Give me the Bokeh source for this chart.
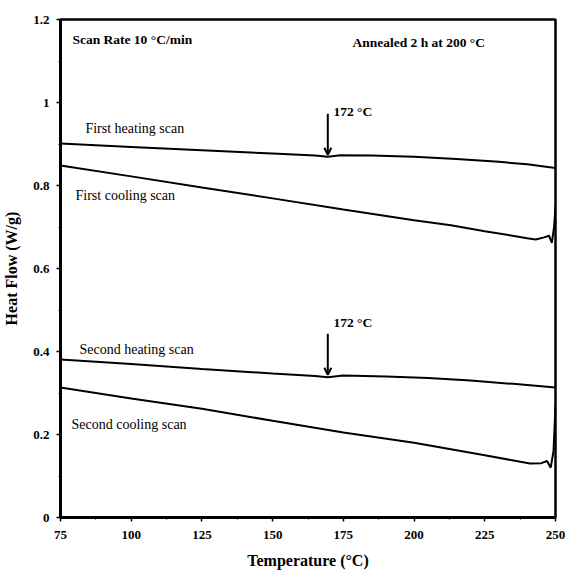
from bokeh.plotting import figure
from bokeh.models import FixedTicker, Arrow, OpenHead, ColumnDataSource, Range1d
from bokeh.core.properties import value
from bokeh.embed import file_html
from bokeh.resources import INLINE

# ---- data ----
first_heat_T = [75, 100, 125, 150, 165, 169.5, 174, 185, 200, 215, 230, 240, 250]
first_heat_Q = [0.901, 0.893, 0.885, 0.877, 0.872, 0.869, 0.873, 0.872, 0.869, 0.864, 0.857, 0.851, 0.842]

first_cool_T = [75, 100, 125, 150, 175, 200, 213, 225, 240, 243, 246, 247.7, 248.7, 249.5, 250]
first_cool_Q = [0.848, 0.822, 0.795, 0.769, 0.742, 0.716, 0.704, 0.69, 0.673, 0.670, 0.675, 0.679, 0.662, 0.70, 0.75]

second_heat_T = [75, 100, 125, 150, 165, 169.5, 175, 190, 205, 220, 235, 250]
second_heat_Q = [0.381, 0.370, 0.358, 0.347, 0.341, 0.338, 0.342, 0.340, 0.336, 0.330, 0.322, 0.313]

second_cool_T = [75, 100, 125, 150, 175, 200, 225, 241, 245, 247, 248.3, 249.3, 250]
second_cool_Q = [0.313, 0.287, 0.262, 0.233, 0.205, 0.180, 0.150, 0.130, 0.131, 0.136, 0.120, 0.16, 0.27]

x_ticks = [75, 100, 125, 150, 175, 200, 225, 250]
y_ticks = [0, 0.2, 0.4, 0.6, 0.8, 1.0, 1.2]
x_minor = [87.5, 112.5, 137.5, 162.5, 187.5, 212.5, 237.5]
y_minor = [0.1, 0.3, 0.5, 0.7, 0.9, 1.1]

bold_labels = ["Scan Rate 10 °C/min", "Annealed 2 h at 200 °C"]
bold_x = [79.2, 178.2]
bold_y = [1.152, 1.145]

scan_labels = ["First heating scan", "First cooling scan", "Second heating scan", "Second cooling scan"]
scan_x = [83.8, 80.3, 81.7, 78.9]
scan_y = [0.937, 0.776, 0.405, 0.224]

peak_labels = ["172 °C", "172 °C"]
peak_x = [171.5, 171.5]
peak_y = [0.978, 0.469]
arrow_x = [169.5, 169.5]
arrow_top = [0.973, 0.443]
arrow_tip = [0.874, 0.344]

FONT = "Liberation Serif"

p = figure(width=566, height=576, output_backend="svg", toolbar_location=None,
           x_range=Range1d(75, 250), y_range=Range1d(0, 1.2),
           min_border_left=58, min_border_right=11, min_border_top=19, min_border_bottom=59)
p.background_fill_color = "white"
p.border_fill_color = "white"
p.grid.visible = False
p.outline_line_color = "black"
p.outline_line_width = 2.5

p.xaxis.ticker = FixedTicker(ticks=x_ticks, minor_ticks=x_minor)
p.yaxis.ticker = FixedTicker(ticks=y_ticks, minor_ticks=y_minor)
for ax in (p.xaxis, p.yaxis):
    ax.axis_line_width = 3
    ax.axis_line_color = "black"
    ax.major_tick_out = 4
    ax.major_tick_in = 0
    ax.minor_tick_out = 2
    ax.minor_tick_in = 0
    ax.major_tick_line_width = 1.5
    ax.major_label_text_font = FONT
    ax.major_label_text_font_style = "bold"
    ax.major_label_text_font_size = "13px"
    ax.major_label_text_color = "black"
    ax.axis_label_text_font = FONT
    ax.axis_label_text_font_style = "bold"
    ax.axis_label_text_font_size = "16px"
    ax.axis_label_text_color = "black"
p.xaxis.axis_label = "Temperature (°C)"
p.yaxis.axis_label = "Heat Flow (W/g)"
p.xaxis.major_label_standoff = 9
p.xaxis.axis_label_standoff = 10
p.yaxis.major_label_standoff = 7
p.yaxis.axis_label_standoff = 10

for T, Q in [(first_heat_T, first_heat_Q), (first_cool_T, first_cool_Q),
             (second_heat_T, second_heat_Q), (second_cool_T, second_cool_Q)]:
    p.line(T, Q, line_color="black", line_width=2)

p.text(x="x", y="y", text="t", source=ColumnDataSource(dict(x=bold_x, y=bold_y, t=bold_labels)),
       text_font=value(FONT), text_font_style="bold", text_font_size="13.5px",
       text_baseline="middle", text_align="left", text_color="black")
p.text(x="x", y="y", text="t", source=ColumnDataSource(dict(x=scan_x, y=scan_y, t=scan_labels)),
       text_font=value(FONT), text_font_size="14px",
       text_baseline="middle", text_align="left", text_color="black")
p.text(x="x", y="y", text="t", source=ColumnDataSource(dict(x=peak_x, y=peak_y, t=peak_labels)),
       text_font=value(FONT), text_font_style="bold", text_font_size="13.5px",
       text_baseline="middle", text_align="left", text_color="black")

for ax_, top, tip in zip(arrow_x, arrow_top, arrow_tip):
    p.add_layout(Arrow(x_start=ax_, y_start=top, x_end=ax_, y_end=tip,
                       line_color="black", line_width=2,
                       end=OpenHead(size=7, line_color="black", line_width=2)))

open("out.html", "w").write(file_html(p, INLINE))
